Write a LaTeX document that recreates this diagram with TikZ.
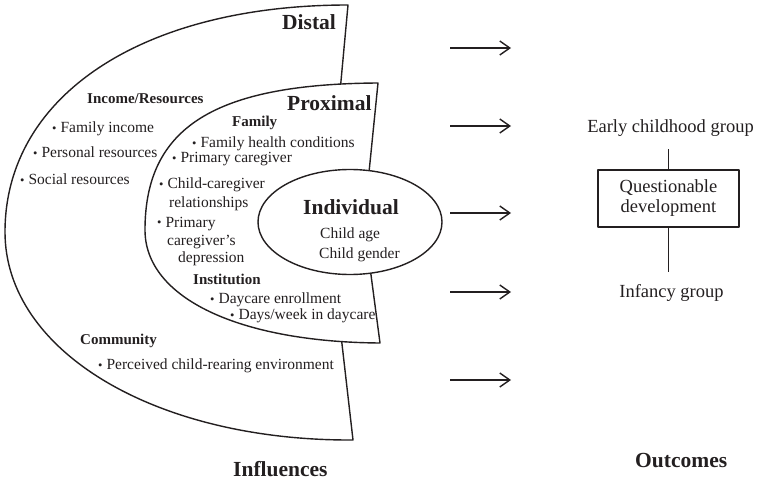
\documentclass[tikz,border=0pt]{standalone}
\usepackage{fontspec}
\setmainfont{Liberation Serif}
\usetikzlibrary{arrows.meta, shapes.geometric}
\definecolor{figInk}{HTML}{231F20}
\newcommand{\itemdot}{{\fontsize{12.5}{12}\selectfont\raisebox{0.2pt}{•}}\hspace{4pt}}

\begin{document}
\begin{tikzpicture}[x=1pt, y=-1pt, line join=round,
    every node/.style={text=figInk, inner sep=0pt},
    band/.style={draw=figInk, fill=white, line width=1.4pt},
    lbl/.style={anchor=base west, font=\fontsize{15.5}{18}\selectfont},
    hdr/.style={anchor=base west, font=\bfseries\fontsize{15}{18}\selectfont},
    ttl/.style={anchor=base west, font=\bfseries\fontsize{21.5}{24}\selectfont},
    grp/.style={anchor=base, font=\fontsize{18.5}{21}\selectfont, inner sep=2pt, outer sep=10pt},
    flow/.style={draw=figInk, line width=1.4pt, -{Straight Barb[length=10pt, width=14pt]}}]
\useasboundingbox (0,0) rectangle (760,481);

% nested bands of influence
\draw[band] (348,5) .. controls (142,5) and (5,96) .. (5,232)
  .. controls (5,351) and (155,441) .. (353,440) -- (328,222) -- cycle;
\draw[band] (378,83) .. controls (215,84) and (145,127) .. (145,230)
  .. controls (145,298) and (239,342) .. (380,343) -- (364,222) -- cycle;
\node[band, ellipse, minimum width=184pt, minimum height=105pt] (indiv) at (350,222) {};

% titles
\node[ttl] (distal) at (282,29.5) {Distal};
\node[ttl] (proximal) at (287,111) {Proximal};
\node[ttl] (individual) at (303,214.3) {Individual};
\node[ttl] (influences) at (233,476) {Influences};
\node[ttl] (outcomes) at (635,467.6) {Outcomes};

% distal factors
\node[hdr] (income) at (87,103.4) {Income/Resources};
\node[lbl] (famincome) at (52,133) {\itemdot Family income};
\node[lbl] (personal) at (33,158) {\itemdot Personal resources};
\node[lbl] (social) at (20,184.5) {\itemdot Social resources};
\node[hdr] (community) at (80,344.5) {Community};
\node[lbl] (rearing) at (98,369.3) {\itemdot Perceived child-rearing environment};

% proximal factors
\node[hdr] (family) at (232,126.8) {Family};
\node[lbl] (health) at (192,148) {\itemdot Family health conditions};
\node[lbl] (caregiver) at (172,163) {\itemdot Primary caregiver};
\node[lbl] (relation) at (159,188.6) {\itemdot Child-caregiver};
\node[lbl] (relationb) at (169,207.3) {relationships};
\node[lbl] (depress) at (157,227) {\itemdot Primary};
\node[lbl] (depressb) at (167,245) {caregiver’s};
\node[lbl] (depressc) at (178,262) {depression};
\node[hdr] (institution) at (193,284) {Institution};
\node[lbl] (enrol) at (210,303.6) {\itemdot Daycare enrollment};
\node[lbl] (daysweek) at (230,319.6) {\itemdot Days/week in daycare};

% individual factors
\node[lbl] (age) at (320,238.6) {Child age};
\node[lbl] (gender) at (319,258) {Child gender};

% arrows towards outcomes
\foreach \y [count=\i] in {48,126,213,292,380} {
  \coordinate (src\i) at (450,\y);
  \coordinate (dst\i) at (511,\y);
  \draw[flow] (src\i) -- (dst\i);
}

% outcomes
\node[grp] (early) at (670.5,133) {Early childhood group};
\node[draw=figInk, line width=1.3pt, minimum width=141pt, minimum height=57pt,
  align=center, font=\fontsize{18.5}{20}\selectfont] (quest) at (668.5,198.5) {Questionable\\development};
\node[grp] (infancy) at (671.5,297.2) {Infancy group};
\draw[figInk, line width=1.3pt] (quest.north) -- (quest.north |- early.south);
\draw[figInk, line width=1.3pt] (quest.south) -- (quest.south |- infancy.north);
\end{tikzpicture}
\end{document}
